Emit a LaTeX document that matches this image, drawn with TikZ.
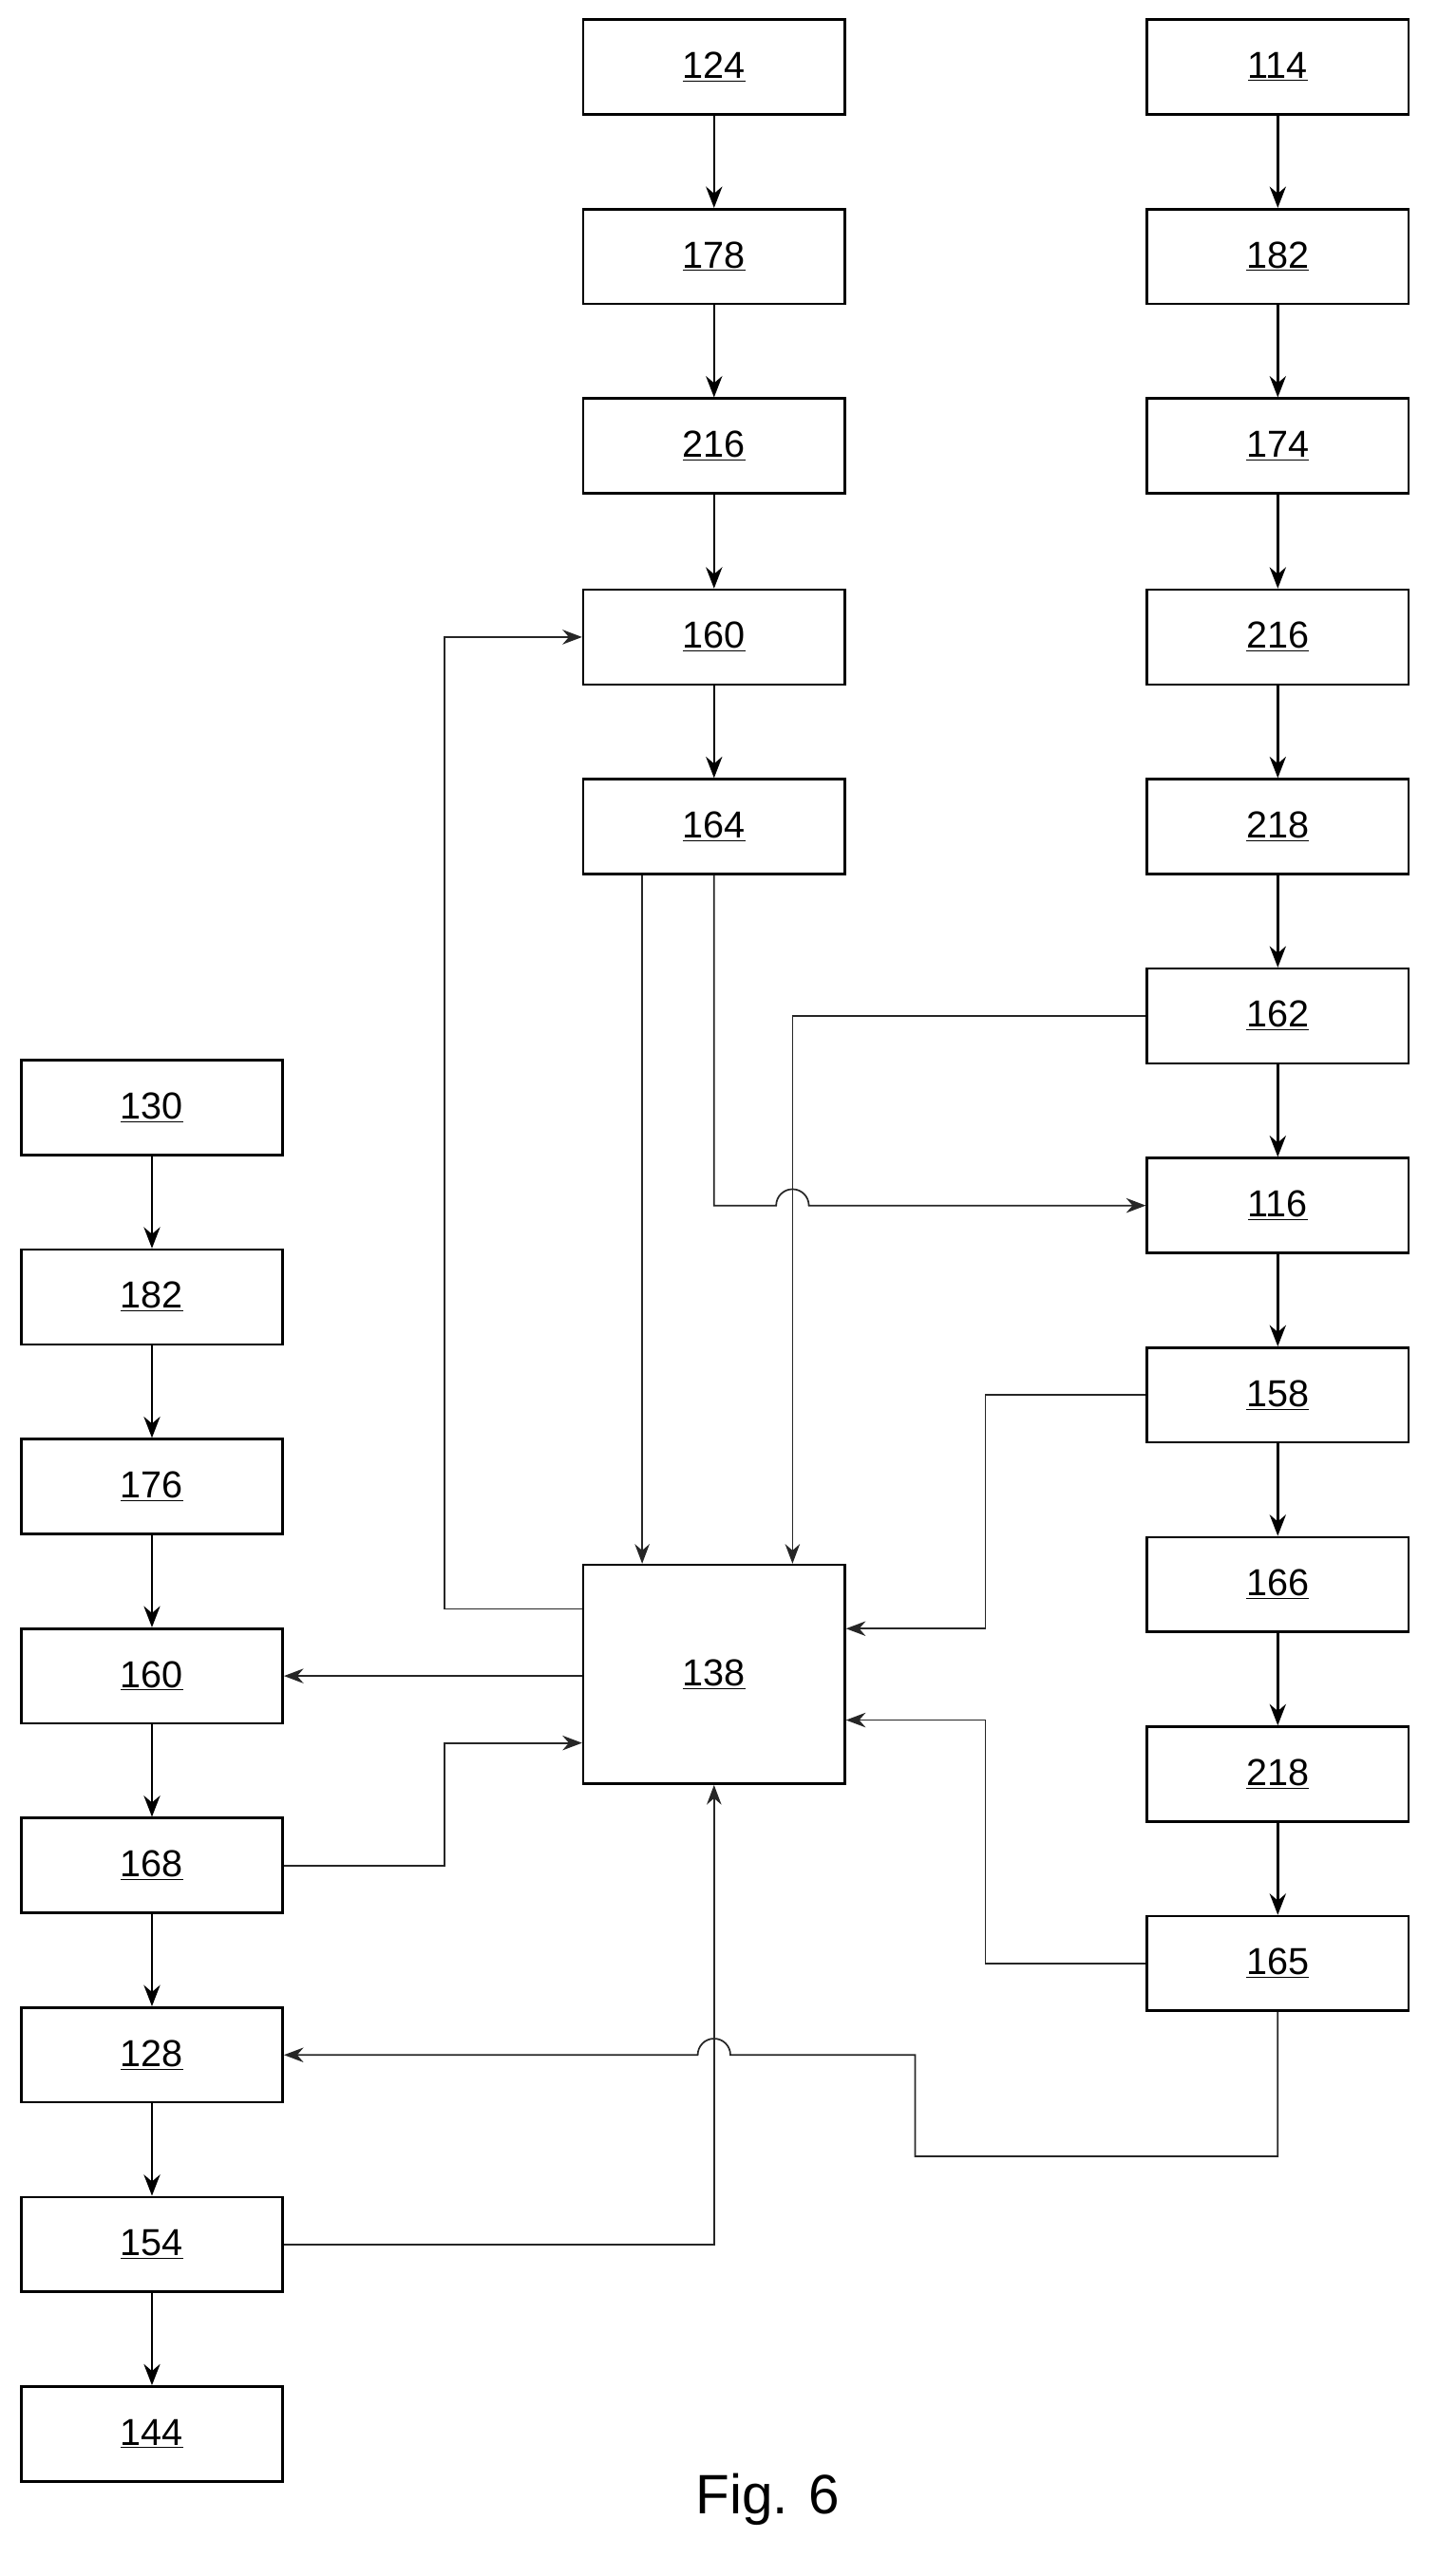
\documentclass[tikz,border=0pt]{standalone}
\usepackage{fontspec}
\setmainfont{Liberation Sans}
\usetikzlibrary{arrows.meta}
\newcommand{\ul}[1]{\tikz[baseline=(t.base)]\node[inner sep=0pt] (t) {#1};\kern-\wd0}
\begin{document}
\begin{tikzpicture}[x=1pt,y=-1pt]
\useasboundingbox (0,0) rectangle (880,1577);
\begin{scope}[every node/.style={draw,line width=1.5pt,minimum width=160pt,minimum height=58pt,inner sep=0pt,font=\fontsize{23}{25}\selectfont}]
    \node (m124) at (437,41) {\underline{124}};
    \node (m178) at (437,157) {\underline{178}};
    \node (m216) at (437,273) {\underline{216}};
    \node (m160) at (437,390) {\underline{160}};
    \node (m164) at (437,506) {\underline{164}};
    \node (r114) at (782,41) {\underline{114}};
    \node (r182) at (782,157) {\underline{182}};
    \node (r174) at (782,273) {\underline{174}};
    \node (r216) at (782,390) {\underline{216}};
    \node (r218) at (782,506) {\underline{218}};
    \node (r162) at (782,622) {\underline{162}};
    \node (r116) at (782,738) {\underline{116}};
    \node (r158) at (782,854) {\underline{158}};
    \node (r166) at (782,970) {\underline{166}};
    \node (r218b) at (782,1086) {\underline{218}};
    \node (r165) at (782,1202) {\underline{165}};
    \node (l130) at (93,678) {\underline{130}};
    \node (l182) at (93,794) {\underline{182}};
    \node (l176) at (93,910) {\underline{176}};
    \node (l160) at (93,1026) {\underline{160}};
    \node (l168) at (93,1142) {\underline{168}};
    \node (l128) at (93,1258) {\underline{128}};
    \node (l154) at (93,1374) {\underline{154}};
    \node (l144) at (93,1490) {\underline{144}};
    \node[minimum height=134pt] (c138) at (437,1025) {\underline{138}};
\end{scope}
\node[font=\fontsize{34}{36}\selectfont] (fig) at (470,1530) {Fig. 6};

\begin{scope}[>={Stealth[length=13pt,width=10pt]}, every path/.style={draw=black, line width=1.5pt}]
    \foreach \a/\b in {m124/m178,m178/m216,m216/m160,m160/m164,
                       r114/r182,r182/r174,r174/r216,r216/r218,r218/r162,r162/r116,r116/r158,r158/r166,r166/r218b,r218b/r165,
                       l130/l182,l182/l176,l176/l160,l160/l168,l168/l128,l128/l154,l154/l144}
        \draw[->] (\a) -- (\b);
\end{scope}

\begin{scope}[>={Stealth[length=12pt,width=9pt]}, every path/.style={draw=black!85, line width=1pt}]
    \draw[->] (c138.west |- 0,985) -- (272,985) |- (m160.west);
    \draw[->] (m164.south -| 393,0) -- (c138.north -| 393,0);
    \draw[->] (r162.west) -| (c138.north -| 485,0);
    \draw[->] (m164.south) -- (437,738) -- (475,738) arc (180:360:10) -- (r116.west);
    \draw[->] (r158.west) -- (603,854) |- (c138.east |- 0,997);
    \draw[->] (r165.west) -- (603,1202) |- (c138.east |- 0,1053);
    \draw[->] (c138.west |- 0,1026) -- (l160.east);
    \draw[->] (l168.east) -- (272,1142) |- (c138.west |- 0,1067);
    \draw[->] (r165.south) |- (560,1320) |- (447,1258) arc (360:180:10) -- (l128.east);
    \draw[->] (l154.east) -| (c138.south);
\end{scope}
\end{tikzpicture}
\end{document}
